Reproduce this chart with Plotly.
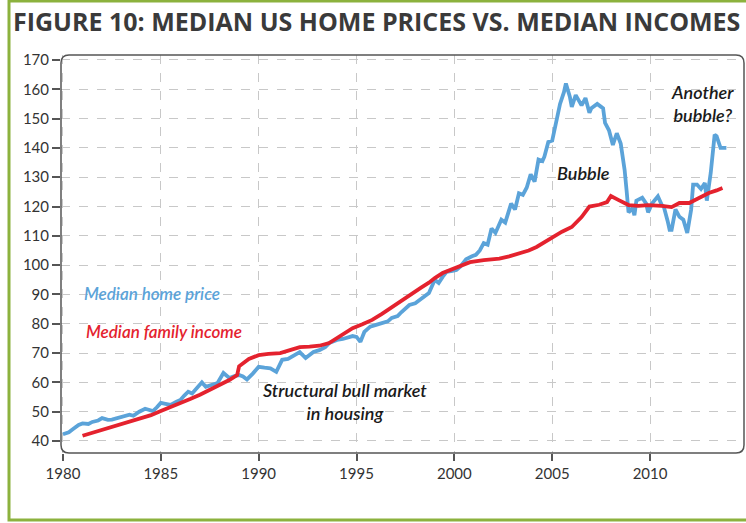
import plotly.graph_objects as go

# ---- data ----
home_year = [1980.0, 1980.3, 1980.5, 1980.8, 1981.0, 1981.3, 1981.5, 1981.8, 1982.0, 1982.3, 1982.5, 1982.8,
             1983.1, 1983.4, 1983.6, 1983.9, 1984.2, 1984.4, 1984.6, 1984.8, 1985.0, 1985.3, 1985.5, 1985.8,
             1986.0, 1986.2, 1986.4, 1986.6, 1986.8, 1987.1, 1987.3, 1987.6, 1987.9, 1988.2, 1988.5, 1988.8,
             1989.0, 1989.2, 1989.4, 1989.7, 1990.0, 1990.3, 1990.6, 1990.9, 1991.2, 1991.5, 1991.7, 1992.1,
             1992.4, 1992.8, 1993.1, 1993.4, 1993.6, 1994.0, 1994.3, 1994.5, 1994.8, 1995.0, 1995.2, 1995.4,
             1995.7, 1996.0, 1996.3, 1996.6, 1996.8, 1997.1, 1997.3, 1997.5, 1997.7, 1998.0, 1998.2, 1998.5,
             1998.7, 1999.0, 1999.2, 1999.4, 1999.6, 1999.9, 2000.1, 2000.3, 2000.6, 2000.9, 2001.1, 2001.3,
             2001.5, 2001.7, 2001.9, 2002.1, 2002.4, 2002.6, 2002.9, 2003.1, 2003.3, 2003.5, 2003.7, 2003.9,
             2004.1, 2004.3, 2004.5, 2004.6, 2004.8, 2005.0, 2005.2, 2005.4, 2005.6, 2005.7, 2005.9, 2006.0,
             2006.2, 2006.4, 2006.5, 2006.7, 2006.9, 2007.0, 2007.3, 2007.5, 2007.6, 2007.7, 2007.9, 2008.1,
             2008.3, 2008.5, 2008.7, 2008.8, 2008.9, 2009.1, 2009.2, 2009.3, 2009.6, 2009.8, 2009.9, 2010.1,
             2010.4, 2010.6, 2010.7, 2010.9, 2011.0, 2011.1, 2011.3, 2011.5, 2011.7, 2011.9, 2012.1, 2012.2,
             2012.4, 2012.6, 2012.8, 2012.9, 2013.1, 2013.3, 2013.4, 2013.6, 2013.9]
home_price = [42.3, 43, 44, 45.5, 46, 45.8, 46.5, 47, 47.8, 47.2, 47.3, 47.8,
              48.3, 49, 48.6, 50, 51, 50.6, 50.2, 51.5, 53, 52.6, 52.3, 53.4,
              54, 55.5, 56.8, 56.2, 57.8, 60, 58.5, 59.2, 59.8, 63.2, 61.5, 62.2,
              62.5, 62, 61, 63, 65.3, 65, 64.8, 63.6, 67.7, 68, 68.7, 70.3,
              68.3, 70.4, 71, 72, 73.4, 74.5, 74.8, 75.2, 75.8, 75.5, 73.8, 77.2,
              79, 79.6, 80.3, 80.8, 82, 82.6, 84, 85, 86.4, 87, 88, 89.2,
              90.5, 95, 93.9, 96, 97.7, 98, 98.3, 99.5, 102, 103, 103.5, 105,
              107.5, 107, 112.5, 111, 115.5, 114.5, 121, 119, 124.5, 124, 126.5, 131,
              128.5, 136, 135.5, 137, 142, 142.5, 149.5, 155, 159, 162, 157.5, 154,
              158, 155.5, 154.5, 157, 152, 153.5, 155, 154, 153.5, 148.5, 146, 141,
              145, 141.5, 132.5, 125.5, 118, 119.5, 117, 122, 123, 121, 118, 121,
              123.5, 120.5, 120, 115, 112, 112, 119, 116.5, 115.5, 111, 119, 127.5,
              127.5, 126, 128, 122, 131.5, 144.5, 144, 140, 140]

income_year = [1981.0, 1981.5, 1982.0, 1982.5, 1983.0, 1983.5, 1984.0, 1984.5, 1985.0, 1985.5, 1986.0, 1986.5,
               1987.0, 1987.5, 1988.0, 1988.5, 1988.9, 1989.0, 1989.5, 1990.0, 1990.5, 1991.1, 1991.6, 1992.1,
               1992.6, 1993.1, 1993.6, 1994.1, 1994.5, 1994.8, 1995.3, 1995.8, 1996.3, 1996.8, 1997.4, 1997.9,
               1998.3, 1998.7, 1999.0, 1999.4, 1999.9, 2000.4, 2000.8, 2001.5, 2002.3, 2002.8, 2003.3, 2003.8,
               2004.2, 2004.8, 2005.2, 2005.5, 2006.0, 2006.5, 2006.9, 2007.4, 2007.8, 2008.0, 2008.4, 2008.9,
               2009.4, 2009.9, 2010.6, 2011.1, 2011.5, 2012.0, 2012.5, 2013.0, 2013.4, 2013.7]
family_income = [41.8, 42.8, 43.8, 44.8, 45.7, 46.6, 47.6, 48.8, 50.2, 51.5, 52.8, 54.3,
                 55.8, 57.4, 59, 60.8, 62.5, 65.5, 68, 69.3, 69.7, 70, 71, 72,
                 72.2, 72.5, 73.4, 75.5, 77.5, 78.5, 79.8, 81.3, 83.4, 85.7, 88.2, 90.5,
                 92.3, 94, 95.6, 97.3, 98.7, 100, 101, 101.7, 102.2, 103, 104, 105,
                 106.2, 108.6, 110.2, 111.4, 113, 116.4, 120, 120.6, 121.5, 123.6, 122.2, 120.5,
                 120.2, 120.5, 120.2, 119.8, 121.2, 121.2, 122.9, 124.6, 125.5, 126.3]

x_ticks = [1980, 1985, 1990, 1995, 2000, 2005, 2010]
y_ticks = list(range(40, 171, 10))

title_text = "FIGURE 10: MEDIAN US HOME PRICES VS. MEDIAN INCOMES"

BLUE = "#5ba3d9"
RED = "#e4222e"
TXT = "#333333"

fig = go.Figure()
fig.add_trace(go.Scatter(x=home_year, y=home_price, mode="lines",
                         line=dict(color=BLUE, width=3.8), name="Median home price"))
fig.add_trace(go.Scatter(x=income_year, y=family_income, mode="lines",
                         line=dict(color=RED, width=3.8), name="Median family income"))

W, H = 746, 523
L, R, T, B = 61, 2, 55, 70
pw, ph = W - L - R, H - T - B


def px(xp):
    return (xp - L) / pw


def py(yp):
    return (H - B - yp) / ph


lbl_font = dict(family="Lato", size=17, weight=600, style="italic")
note_font = dict(family="Lato", size=18, weight=600, style="italic", color="#1a1a1a")
annotations = [
    dict(x=1980.95, y=90.2, text="Median home price", xanchor="left", yanchor="middle",
         font=dict(lbl_font, color=BLUE)),
    dict(x=1981.1, y=77.5, text="Median family income", xanchor="left", yanchor="middle",
         font=dict(lbl_font, color=RED)),
    dict(x=1994.4, y=53.4, text="Structural bull market<br>in housing", xanchor="center", yanchor="middle",
         font=note_font),
    dict(x=2006.6, y=131.4, text="Bubble", xanchor="center", yanchor="middle", font=note_font),
    dict(x=2012.7, y=155.2, text="Another<br>bubble?", xanchor="center", yanchor="middle", font=note_font),
    dict(xref="paper", yref="paper", x=px(11), y=py(21), text="<b>" + title_text + "</b>",
         xanchor="left", yanchor="middle", font=dict(family="Open Sans", size=25, color="#3a3a3a")),
]
for a in annotations:
    a.setdefault("showarrow", False)
    a.setdefault("align", "center")

# rounded frame around the plotting area (paper coordinates)
r = 8
rx, ry = r / pw, r / ph
frame = (f"M {rx},0 L {1 - rx},0 Q 1,0 1,{ry} L 1,{1 - ry} Q 1,1 {1 - rx},1 "
         f"L {rx},1 Q 0,1 0,{1 - ry} L 0,{ry} Q 0,0 {rx},0 Z")

shapes = [
    dict(type="path", xref="paper", yref="paper", path=frame,
         line=dict(color="#555555", width=1.5), layer="above"),
    dict(type="rect", xref="paper", yref="paper", x0=px(9), x1=px(770), y0=py(520), y1=py(1),
         line=dict(color="#8cb23e", width=3)),
]

fig.update_layout(
    width=W, height=H,
    margin=dict(l=L, r=R, t=T, b=B),
    paper_bgcolor="white", plot_bgcolor="white",
    showlegend=False,
    annotations=annotations,
    shapes=shapes,
    font=dict(family="Lato", color=TXT),
)
fig.update_xaxes(
    range=[1979.9, 2014.8], tickvals=x_ticks, ticktext=[str(v) for v in x_ticks],
    ticks="outside", ticklen=7, tickwidth=1.5, tickcolor="#555555",
    showgrid=True, gridcolor="#c8c8c8", griddash="dash", gridwidth=1,
    zeroline=False, showline=False, tickfont=dict(size=15, color=TXT), automargin=False,
)
fig.update_yaxes(
    range=[35.9, 171.7], tickvals=y_ticks, ticktext=[str(v) for v in y_ticks],
    ticks="outside", ticklen=8, tickwidth=1.5, tickcolor="#555555",
    showgrid=True, gridcolor="#c8c8c8", griddash="dash", gridwidth=1,
    zeroline=False, showline=False, tickfont=dict(size=15, color=TXT), automargin=False,
)

fig.write_html("out.html", config={"displayModeBar": False},
               post_script="document.body.style.margin='0';document.body.style.overflow='hidden';")
